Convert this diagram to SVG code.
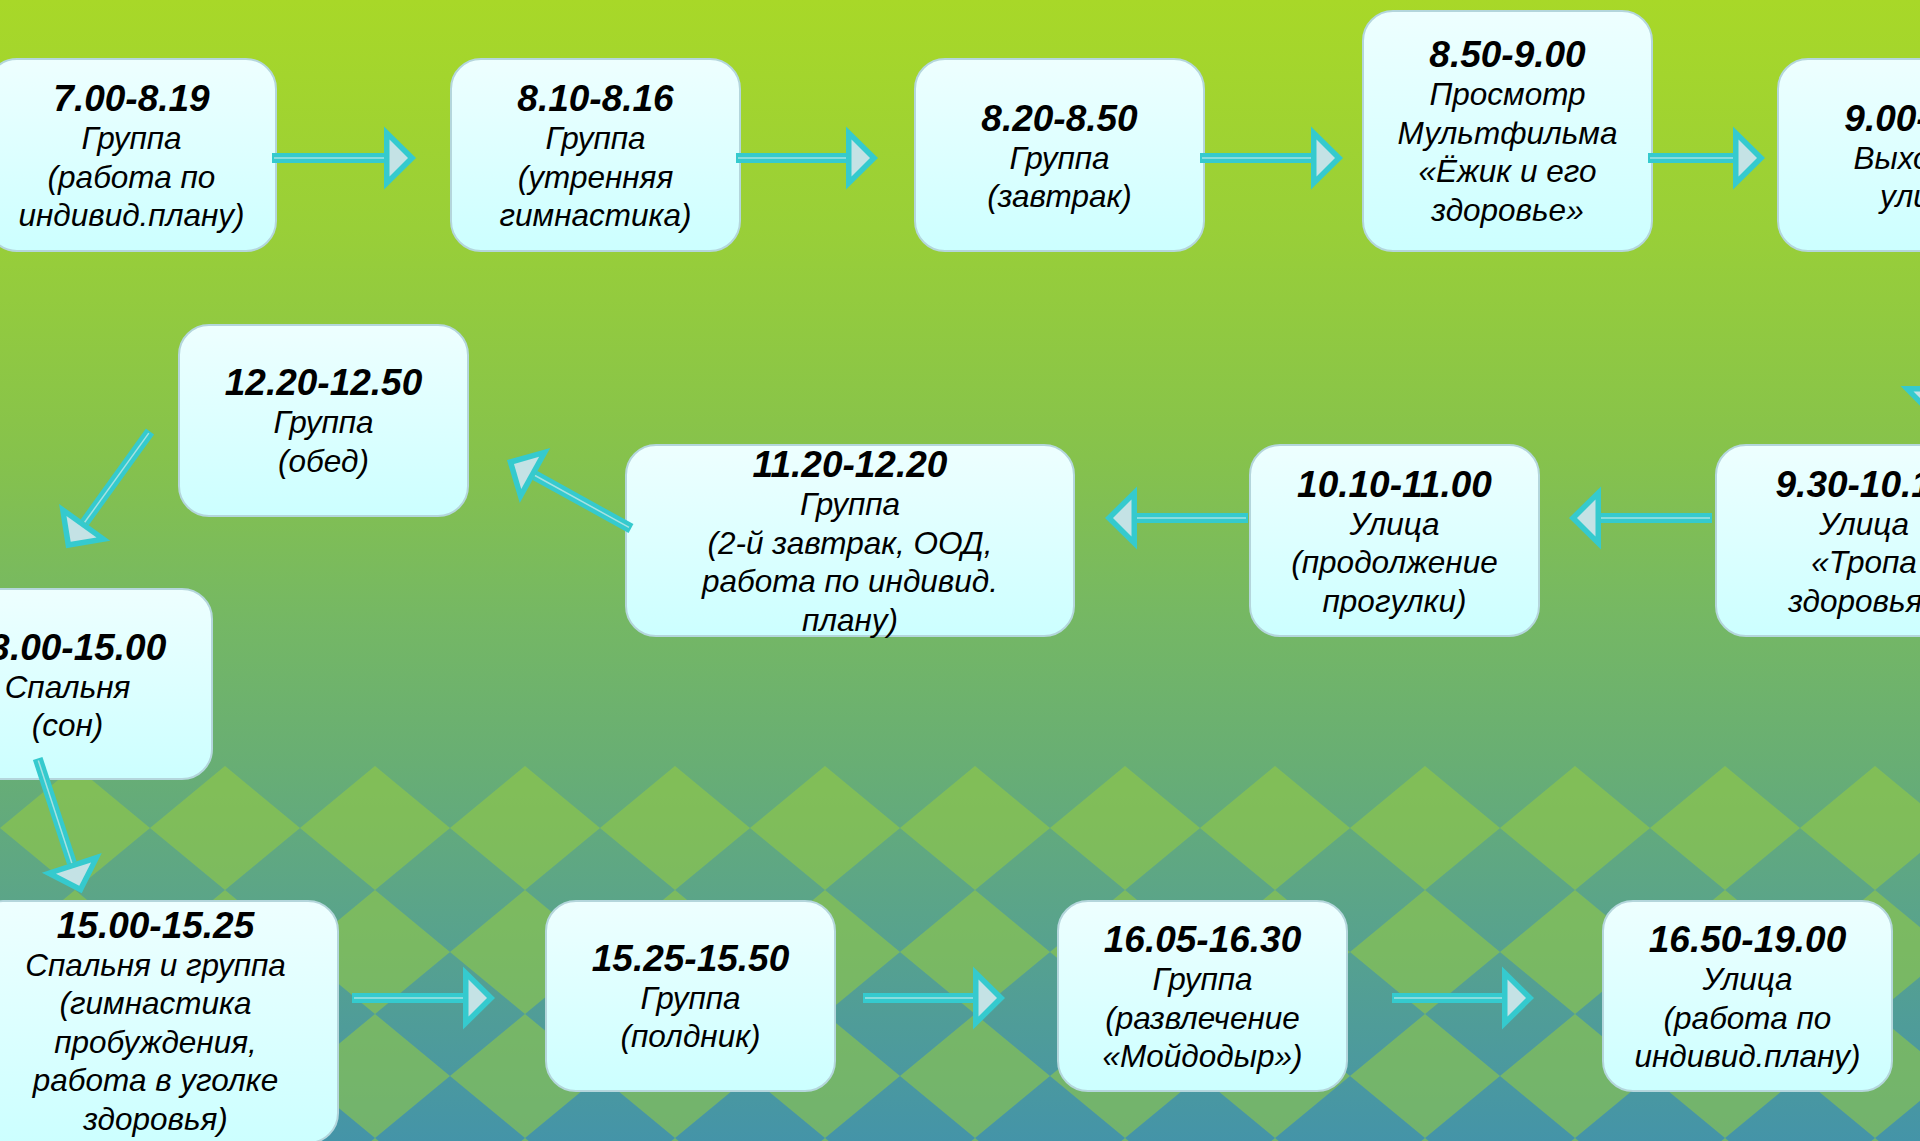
<svg xmlns="http://www.w3.org/2000/svg" width="1920" height="1141" viewBox="0 0 1920 1141">
<defs>
  <linearGradient id="bg" x1="0" y1="0" x2="0" y2="1141" gradientUnits="userSpaceOnUse">
    <stop offset="0" stop-color="#A8D828"/>
    <stop offset="0.2" stop-color="#99CF38"/>
    <stop offset="0.4" stop-color="#86C24C"/>
    <stop offset="0.55" stop-color="#74B765"/>
    <stop offset="0.67" stop-color="#68AE74"/>
    <stop offset="0.8" stop-color="#5AA48A"/>
    <stop offset="1" stop-color="#4494A8"/>
  </linearGradient>
  <linearGradient id="boxfill" x1="0" y1="0" x2="0" y2="1">
    <stop offset="0" stop-color="#EEFFFF"/>
    <stop offset="1" stop-color="#CCFFFF"/>
  </linearGradient>
  <pattern id="diam" patternUnits="userSpaceOnUse" x="0" y="766" width="150" height="124">
    <polygon points="75,0 150,62 75,124 0,62" fill="#96CB3E" fill-opacity="0.55"/>
  </pattern>
  <marker id="ah" markerUnits="userSpaceOnUse" markerWidth="40" markerHeight="70" viewBox="-2 -35 40 70" refX="0" refY="0" orient="auto" overflow="visible">
    <path d="M0,-31.5 L32,0 L0,31.5 Z" fill="#35CACE"/>
    <path d="M5.5,-18.5 L24,0 L5.5,18.5 Z" fill="#C4E2E5"/>
  </marker>
  <style>
    .box { fill: url(#boxfill); stroke: #B4D6DC; stroke-width: 2; }
    .t { font-family: "Liberation Sans", Arial, sans-serif; font-style: italic; text-anchor: middle; fill: #000; }
    .tm { font-size: 37px; font-weight: bold; }
    .tx { font-size: 31.5px; }
    .shaft { fill: none; stroke: #35CACE; stroke-width: 10; marker-end: url(#ah); }
    .hl { fill: none; stroke: #A6E2E2; stroke-width: 1.5; }
  </style>
</defs>

<rect x="0" y="0" width="1920" height="1141" fill="url(#bg)"/>
<rect x="0" y="766" width="1920" height="375" fill="url(#diam)"/>

<g id="node-0700">
  <rect class="box" x="-13" y="59" width="289" height="192" rx="30"/>
  <text class="t tm" x="131.5" y="111">7.00-8.19</text>
  <text class="t tx" x="131.5" y="149">Группа</text>
  <text class="t tx" x="131.5" y="187.5">(работа по</text>
  <text class="t tx" x="131.5" y="226">индивид.плану)</text>
</g>
<g id="node-0810">
  <rect class="box" x="451" y="59" width="289" height="192" rx="30"/>
  <text class="t tm" x="595.5" y="111">8.10-8.16</text>
  <text class="t tx" x="595.5" y="149">Группа</text>
  <text class="t tx" x="595.5" y="187.5">(утренняя</text>
  <text class="t tx" x="595.5" y="226">гимнастика)</text>
</g>
<g id="node-0820">
  <rect class="box" x="915" y="59" width="289" height="192" rx="30"/>
  <text class="t tm" x="1059.5" y="130.5">8.20-8.50</text>
  <text class="t tx" x="1059.5" y="168.5">Группа</text>
  <text class="t tx" x="1059.5" y="207">(завтрак)</text>
</g>
<g id="node-0850">
  <rect class="box" x="1363" y="11" width="289" height="240" rx="30"/>
  <text class="t tm" x="1507.5" y="67">8.50-9.00</text>
  <text class="t tx" x="1507.5" y="105">Просмотр</text>
  <text class="t tx" x="1507.5" y="143.5">Мультфильма</text>
  <text class="t tx" x="1507.5" y="182">«Ёжик и его</text>
  <text class="t tx" x="1507.5" y="220.5">здоровье»</text>
</g>
<g id="node-0900">
  <rect class="box" x="1778" y="59" width="289" height="192" rx="30"/>
  <text class="t tm" x="1922.5" y="130.5">9.00-9.30</text>
  <text class="t tx" x="1922.5" y="168.5">Выход на</text>
  <text class="t tx" x="1922.5" y="207">улицу</text>
</g>
<g id="node-0930">
  <rect class="box" x="1716" y="445" width="289" height="191" rx="30"/>
  <text class="t tm" x="1864" y="496.5">9.30-10.10</text>
  <text class="t tx" x="1864" y="534.5">Улица</text>
  <text class="t tx" x="1864" y="573">«Тропа</text>
  <text class="t tx" x="1864" y="611.5">здоровья»</text>
</g>
<g id="node-1010">
  <rect class="box" x="1250" y="445" width="289" height="191" rx="30"/>
  <text class="t tm" x="1394.5" y="496.5">10.10-11.00</text>
  <text class="t tx" x="1394.5" y="534.5">Улица</text>
  <text class="t tx" x="1394.5" y="573">(продолжение</text>
  <text class="t tx" x="1394.5" y="611.5">прогулки)</text>
</g>
<g id="node-1120">
  <rect class="box" x="626" y="445" width="448" height="191" rx="30"/>
  <text class="t tm" x="850" y="477">11.20-12.20</text>
  <text class="t tx" x="850" y="515">Группа</text>
  <text class="t tx" x="850" y="553.5">(2-й завтрак, ООД,</text>
  <text class="t tx" x="850" y="592">работа по индивид.</text>
  <text class="t tx" x="850" y="630.5">плану)</text>
</g>
<g id="node-1220">
  <rect class="box" x="179" y="325" width="289" height="191" rx="30"/>
  <text class="t tm" x="323.5" y="395">12.20-12.50</text>
  <text class="t tx" x="323.5" y="433">Группа</text>
  <text class="t tx" x="323.5" y="471.5">(обед)</text>
</g>
<g id="node-1300">
  <rect class="box" x="-77" y="589" width="289" height="190" rx="30"/>
  <text class="t tm" x="67.5" y="659.5">13.00-15.00</text>
  <text class="t tx" x="67.5" y="697.5">Спальня</text>
  <text class="t tx" x="67.5" y="736">(сон)</text>
</g>
<g id="node-1500">
  <rect class="box" x="-27" y="901" width="365" height="242" rx="30"/>
  <text class="t tm" x="155.5" y="937.5">15.00-15.25</text>
  <text class="t tx" x="155.5" y="975.5">Спальня и группа</text>
  <text class="t tx" x="155.5" y="1014">(гимнастика</text>
  <text class="t tx" x="155.5" y="1052.5">пробуждения,</text>
  <text class="t tx" x="155.5" y="1091">работа в уголке</text>
  <text class="t tx" x="155.5" y="1129.5">здоровья)</text>
</g>
<g id="node-1525">
  <rect class="box" x="546" y="901" width="289" height="190" rx="30"/>
  <text class="t tm" x="690.5" y="970.5">15.25-15.50</text>
  <text class="t tx" x="690.5" y="1008.5">Группа</text>
  <text class="t tx" x="690.5" y="1047">(полдник)</text>
</g>
<g id="node-1605">
  <rect class="box" x="1058" y="901" width="289" height="190" rx="30"/>
  <text class="t tm" x="1202.5" y="952">16.05-16.30</text>
  <text class="t tx" x="1202.5" y="990">Группа</text>
  <text class="t tx" x="1202.5" y="1028.5">(развлечение</text>
  <text class="t tx" x="1202.5" y="1067">«Мойдодыр»)</text>
</g>
<g id="node-1650">
  <rect class="box" x="1603" y="901" width="289" height="190" rx="30"/>
  <text class="t tm" x="1747.5" y="952">16.50-19.00</text>
  <text class="t tx" x="1747.5" y="990">Улица</text>
  <text class="t tx" x="1747.5" y="1028.5">(работа по</text>
  <text class="t tx" x="1747.5" y="1067">индивид.плану)</text>
</g>

<g id="connectors">
  <path class="shaft" d="M272,158 L384,158"/><path class="hl" d="M274,158 L384,158"/>
  <path class="shaft" d="M736,158 L846,158"/><path class="hl" d="M738,158 L846,158"/>
  <path class="shaft" d="M1200,158 L1311,158"/><path class="hl" d="M1202,158 L1311,158"/>
  <path class="shaft" d="M1648,158 L1733,158"/><path class="hl" d="M1650,158 L1733,158"/>
  <path class="shaft" d="M1932,252 L1932,386"/><path class="hl" d="M1932,254 L1932,386"/>
  <path class="shaft" d="M1712,518 L1601,518"/><path class="hl" d="M1710,518 L1601,518"/>
  <path class="shaft" d="M1248,518 L1137,518"/><path class="hl" d="M1246,518 L1137,518"/>
  <path class="shaft" d="M631,528.5 L535,475.5"/><path class="hl" d="M629,527.4 L535,475.5"/>
  <path class="shaft" d="M150,431.5 L84.7,522.3"/><path class="hl" d="M148.8,433.1 L84.7,522.3"/>
  <path class="shaft" d="M37.7,758.5 L71.8,862.9"/><path class="hl" d="M38.3,760.4 L71.8,862.9"/>
  <path class="shaft" d="M352,998 L463,998"/><path class="hl" d="M354,998 L463,998"/>
  <path class="shaft" d="M863,998 L973,998"/><path class="hl" d="M865,998 L973,998"/>
  <path class="shaft" d="M1392,998 L1502,998"/><path class="hl" d="M1394,998 L1502,998"/>
</g>
</svg>
